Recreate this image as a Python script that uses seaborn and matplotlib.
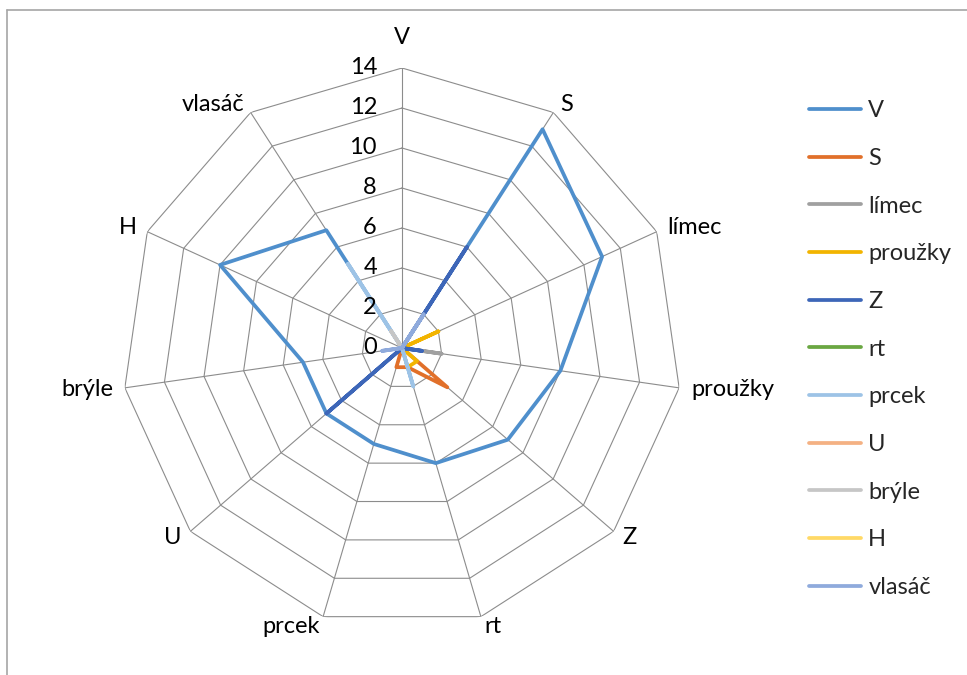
import numpy as np
import pandas as pd
import seaborn as sns
import matplotlib.pyplot as plt
from matplotlib.lines import Line2D

# --- data ---
categories = ['V', 'S', 'límec', 'proužky', 'Z', 'rt', 'prcek', 'U', 'brýle', 'H', 'vlasáč']
series_names = ['V', 'S', 'límec', 'proužky', 'Z', 'rt', 'prcek', 'U', 'brýle', 'H', 'vlasáč']

v_vals       = [0, 13, 11, 8, 7, 6, 5, 5, 5, 10, 7]
s_vals       = [0, 0, 0, 0, 3, 1, 1, 0, 0, 0, 0]
limec_vals   = [0, 0, 0, 2, 0, 0, 0, 0, 0, 0, 0]
prouzky_vals = [0, 0, 2, 0, 1, 1, 0, 0, 0, 0, 0]
z_vals       = [0, 6, 0, 1, 0, 0, 0, 5, 0, 0, 0]
rt_vals      = [0, 0, 0, 0, 0, 0, 0, 0, 0, 0, 0]
prcek_vals   = [0, 0, 0, 0, 0, 2, 0, 0, 0, 0, 5]
u_vals       = [0, 0, 0, 0, 0, 0, 0, 0, 0, 0, 0]
bryle_vals   = [0, 0, 0, 0, 0, 0, 0, 0, 0, 0, 1]
h_vals       = [0, 0, 0, 0, 0, 0, 0, 0, 0, 0, 0]
vlasac_vals  = [0, 2, 0, 0, 0, 0, 0, 0, 1, 0, 0]

r_ticks = [0, 2, 4, 6, 8, 10, 12, 14]

colors = ['#4F8FCC', '#E1702A', '#A0A0A0', '#F2B400', '#3D66B8', '#6AA742',
          '#9DC3E6', '#F4B183', '#C6C6C6', '#FFD966', '#8FAADC']

all_vals = [v_vals, s_vals, limec_vals, prouzky_vals, z_vals, rt_vals,
            prcek_vals, u_vals, bryle_vals, h_vals, vlasac_vals]

# long table, polygon closed by repeating the first category at 2*pi
n = len(categories)
theta = np.linspace(0, 2 * np.pi, n, endpoint=False)
rows = []
for name, vals in zip(series_names, all_vals):
    for t, r in zip(list(theta) + [2 * np.pi], list(vals) + [vals[0]]):
        rows.append({'theta': t, 'r': r, 'series': name})
df = pd.DataFrame(rows)

sns.set_style('white')
plt.rcParams['font.family'] = ['Lato', 'DejaVu Sans']

W, H = 967, 675
fig = plt.figure(figsize=(W / 100, H / 100), dpi=100)
cx, cy, rad = 402, 348, 280
ax = fig.add_axes([(cx - rad) / W, (H - cy - rad) / H, 2 * rad / W, 2 * rad / H],
                  projection='polar')
ax.set_theta_zero_location('N')
ax.set_theta_direction(-1)
ax.patch.set_alpha(0)

# polygon grid
grid_col = '#8C8C8C'
th_closed = list(theta) + [theta[0]]
for rv in r_ticks[1:]:
    ax.plot(th_closed, [rv] * (n + 1), color=grid_col, lw=0.8, zorder=1)
for t in theta:
    ax.plot([t, t], [0, r_ticks[-1]], color=grid_col, lw=0.8, zorder=1)

sns.lineplot(data=df, x='theta', y='r', hue='series', hue_order=series_names,
             palette=colors, sort=False, estimator=None, lw=2.7, ax=ax, zorder=3)

ax.set_ylim(0, 14)
ax.grid(False)
ax.spines['polar'].set_visible(False)
ax.set_xticks([])
ax.set_yticks([])
ax.set_xlabel('')
ax.set_ylabel('')

fs = 17
# radial value labels left of the first spoke
for rv in r_ticks:
    ax.annotate(str(rv), xy=(0, rv), xytext=(-25, 0), textcoords='offset pixels',
                ha='right', va='center', fontsize=fs, color='#000000')

# category labels round the outside
for t, lab in zip(theta, categories):
    s, c = np.sin(t), np.cos(t)
    ha = 'left' if s > 0.2 else ('right' if s < -0.2 else 'center')
    dx = 12 * s
    dy = 10 * c + (20 if c > 0.99 else 0)
    ax.annotate(lab, xy=(t, 14), xytext=(dx, dy), textcoords='offset pixels',
                ha=ha, va='center', fontsize=fs, color='#000000')

handles, labels = ax.get_legend_handles_labels()
ax.get_legend().remove()
fig.legend(handles, labels, loc='upper left', bbox_to_anchor=(788 / W, 1 - 79 / H),
           frameon=False, fontsize=fs, handlelength=2.2, handletextpad=0.3,
           labelspacing=1.13)

# chart border (partly cropped in the reference)
fig.add_artist(Line2D([7 / W, 7 / W], [0, 1 - 10 / H], color='#A6A6A6', lw=1.2))
fig.add_artist(Line2D([7 / W, 1], [1 - 10 / H, 1 - 10 / H], color='#A6A6A6', lw=1.2))

fig.savefig('out.png', dpi=100)
